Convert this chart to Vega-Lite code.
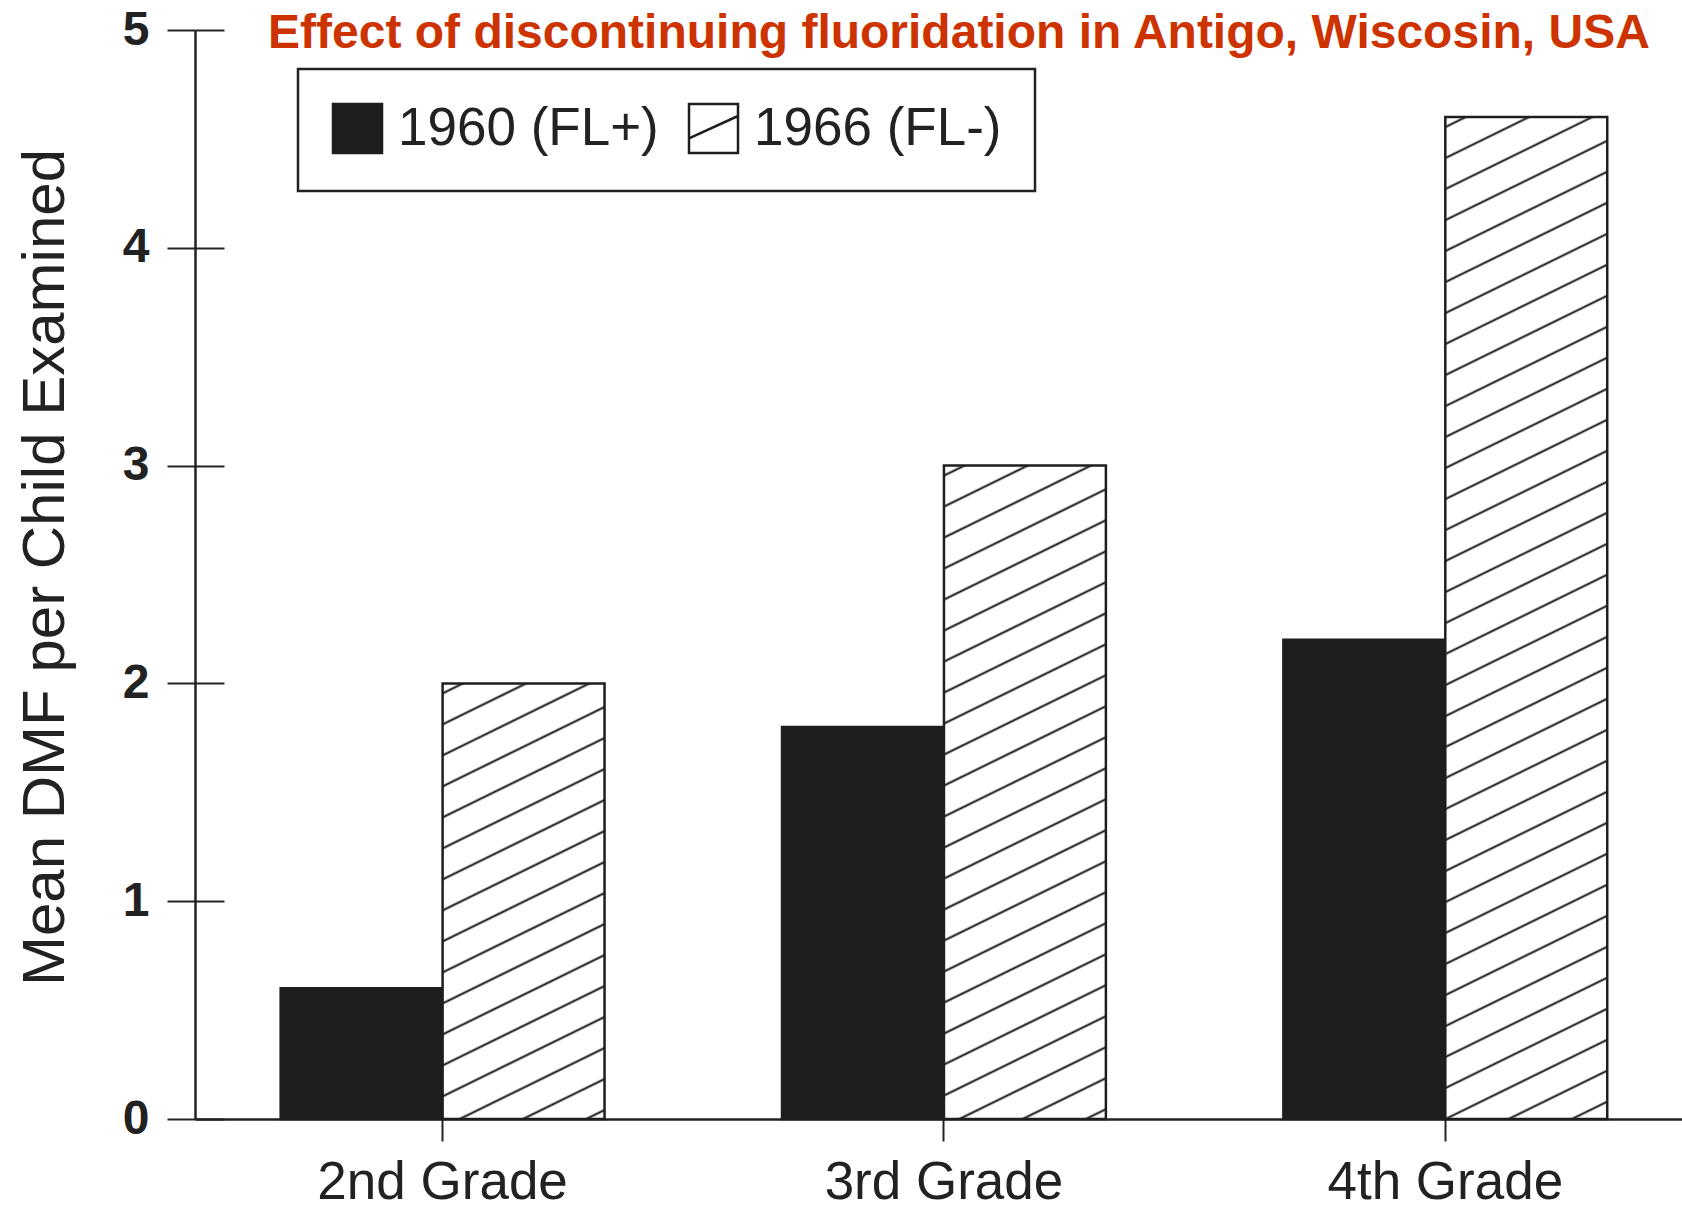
{
  "$schema": "https://vega.github.io/schema/vega-lite/v6.json",
  "autosize": {"type": "none"},
  "padding": {"left": 195, "top": 30, "right": 0, "bottom": 93},
  "width": 1487,
  "height": 1089,
  "background": "#ffffff",
  "data": {
    "values": [
      {"grade": "2nd Grade", "year": "1960 (FL+)", "dmf": 0.6},
      {"grade": "2nd Grade", "year": "1966 (FL-)", "dmf": 2.0},
      {"grade": "3rd Grade", "year": "1960 (FL+)", "dmf": 1.8},
      {"grade": "3rd Grade", "year": "1966 (FL-)", "dmf": 3.0},
      {"grade": "4th Grade", "year": "1960 (FL+)", "dmf": 2.2},
      {"grade": "4th Grade", "year": "1966 (FL-)", "dmf": 4.6}
    ]
  },
  "resolve": {"axis": {"y": "independent"}},
  "layer": [
    {
      "mark": {"type": "bar", "stroke": "#1e1e1e", "strokeWidth": 2.5},
      "encoding": {
        "x": {
          "field": "grade", "type": "nominal",
          "sort": ["2nd Grade", "3rd Grade", "4th Grade"],
          "scale": {"paddingInner": 0.354, "paddingOuter": 0.16, "align": 0.534},
          "axis": {
            "title": null, "labelAngle": 0, "labelFont": "Liberation Sans", "labelFontSize": 53,
            "labelColor": "#222222", "labelBaseline": "alphabetic", "labelPadding": 57, "labelLimit": 0,
            "tickSize": 22, "tickWidth": 2, "tickColor": "#222222",
            "domainColor": "#222222", "domainWidth": 2.5, "grid": false
          }
        },
        "xOffset": {
          "field": "year", "type": "nominal",
          "sort": ["1960 (FL+)", "1966 (FL-)"],
          "scale": {"paddingInner": 0, "paddingOuter": 0}
        },
        "y": {
          "field": "dmf", "type": "quantitative",
          "scale": {"domain": [0, 5], "nice": false},
          "axis": {
            "orient": "left",
            "title": "Mean DMF per Child Examined",
            "titleFont": "Liberation Sans", "titleFontSize": 60, "titleFontWeight": "normal",
            "titleColor": "#222222", "titleAngle": 270, "titleBaseline": "alphabetic", "titleAlign": "center",
            "titleX": -132, "titleY": 537,
            "values": [0, 1, 2, 3, 4, 5], "format": "d",
            "labelFont": "Liberation Sans", "labelFontSize": 48, "labelFontWeight": "bold",
            "labelColor": "#222222", "labelPadding": 18,
            "tickSize": 28, "tickWidth": 2, "tickColor": "#222222",
            "domainColor": "#222222", "domainWidth": 2.5, "grid": false
          }
        },
        "fill": {
          "field": "year", "type": "nominal",
          "scale": {"domain": ["1960 (FL+)", "1966 (FL-)"], "range": ["#1e1e1e", "#ffffff"]},
          "legend": {
            "title": null, "orient": "none", "legendX": 103, "legendY": 39,
            "direction": "horizontal",
            "symbolSize": 2401, "symbolType": "square",
            "symbolStrokeColor": "#1e1e1e", "symbolStrokeWidth": 2.5,
            "labelFont": "Liberation Sans", "labelFontSize": 53, "labelColor": "#222222",
            "labelLimit": 0,
            "labelOffset": 14, "columnPadding": 25, "padding": 33,
            "strokeColor": "#222222",
            "encode": {
              "legend": {"update": {"strokeWidth": {"value": 2.5}}},
              "symbols": {"update": {"shape": [
                {"test": "datum.value === '1966 (FL-)'", "value": "M-1,-1H1V1H-1Z M-1,0.4L1,-0.51"},
                {"value": "square"}
              ]}}
            }
          },
          "condition": [
            {
              "test": "datum.year === '1966 (FL-)' && datum.grade === '2nd Grade'",
              "value": {
                "gradient": "linear", "x1": 0, "y1": 0, "x2": 0.2086, "y2": 1.1443,
                "stops": [
                  {"offset": 0.0151, "color": "#fff"}, {"offset": 0.0194, "color": "#111"}, {"offset": 0.0237, "color": "#fff"},
                  {"offset": 0.0753, "color": "#fff"}, {"offset": 0.0796, "color": "#111"}, {"offset": 0.0839, "color": "#fff"},
                  {"offset": 0.1355, "color": "#fff"}, {"offset": 0.1398, "color": "#111"}, {"offset": 0.1441, "color": "#fff"},
                  {"offset": 0.1957, "color": "#fff"}, {"offset": 0.2000, "color": "#111"}, {"offset": 0.2043, "color": "#fff"},
                  {"offset": 0.2559, "color": "#fff"}, {"offset": 0.2602, "color": "#111"}, {"offset": 0.2645, "color": "#fff"},
                  {"offset": 0.3161, "color": "#fff"}, {"offset": 0.3204, "color": "#111"}, {"offset": 0.3247, "color": "#fff"},
                  {"offset": 0.3763, "color": "#fff"}, {"offset": 0.3806, "color": "#111"}, {"offset": 0.3849, "color": "#fff"},
                  {"offset": 0.4365, "color": "#fff"}, {"offset": 0.4408, "color": "#111"}, {"offset": 0.4451, "color": "#fff"},
                  {"offset": 0.4967, "color": "#fff"}, {"offset": 0.5010, "color": "#111"}, {"offset": 0.5053, "color": "#fff"},
                  {"offset": 0.5569, "color": "#fff"}, {"offset": 0.5612, "color": "#111"}, {"offset": 0.5655, "color": "#fff"},
                  {"offset": 0.6171, "color": "#fff"}, {"offset": 0.6214, "color": "#111"}, {"offset": 0.6257, "color": "#fff"},
                  {"offset": 0.6773, "color": "#fff"}, {"offset": 0.6816, "color": "#111"}, {"offset": 0.6859, "color": "#fff"},
                  {"offset": 0.7375, "color": "#fff"}, {"offset": 0.7418, "color": "#111"}, {"offset": 0.7461, "color": "#fff"},
                  {"offset": 0.7976, "color": "#fff"}, {"offset": 0.8019, "color": "#111"}, {"offset": 0.8062, "color": "#fff"},
                  {"offset": 0.8578, "color": "#fff"}, {"offset": 0.8621, "color": "#111"}, {"offset": 0.8664, "color": "#fff"},
                  {"offset": 0.9180, "color": "#fff"}, {"offset": 0.9223, "color": "#111"}, {"offset": 0.9266, "color": "#fff"},
                  {"offset": 0.9782, "color": "#fff"}, {"offset": 0.9825, "color": "#111"}, {"offset": 0.9868, "color": "#fff"}
                ]
              }
            },
            {
              "test": "datum.year === '1966 (FL-)' && datum.grade === '3rd Grade'",
              "value": {
                "gradient": "linear", "x1": 0, "y1": 0, "x2": 0.1343, "y2": 1.1052,
                "stops": [
                  {"offset": 0.0107, "color": "#fff"}, {"offset": 0.0137, "color": "#111"}, {"offset": 0.0167, "color": "#fff"},
                  {"offset": 0.0530, "color": "#fff"}, {"offset": 0.0560, "color": "#111"}, {"offset": 0.0590, "color": "#fff"},
                  {"offset": 0.0953, "color": "#fff"}, {"offset": 0.0983, "color": "#111"}, {"offset": 0.1013, "color": "#fff"},
                  {"offset": 0.1376, "color": "#fff"}, {"offset": 0.1406, "color": "#111"}, {"offset": 0.1436, "color": "#fff"},
                  {"offset": 0.1799, "color": "#fff"}, {"offset": 0.1829, "color": "#111"}, {"offset": 0.1859, "color": "#fff"},
                  {"offset": 0.2222, "color": "#fff"}, {"offset": 0.2252, "color": "#111"}, {"offset": 0.2282, "color": "#fff"},
                  {"offset": 0.2645, "color": "#fff"}, {"offset": 0.2675, "color": "#111"}, {"offset": 0.2705, "color": "#fff"},
                  {"offset": 0.3068, "color": "#fff"}, {"offset": 0.3098, "color": "#111"}, {"offset": 0.3128, "color": "#fff"},
                  {"offset": 0.3491, "color": "#fff"}, {"offset": 0.3521, "color": "#111"}, {"offset": 0.3551, "color": "#fff"},
                  {"offset": 0.3914, "color": "#fff"}, {"offset": 0.3944, "color": "#111"}, {"offset": 0.3974, "color": "#fff"},
                  {"offset": 0.4337, "color": "#fff"}, {"offset": 0.4367, "color": "#111"}, {"offset": 0.4397, "color": "#fff"},
                  {"offset": 0.4760, "color": "#fff"}, {"offset": 0.4790, "color": "#111"}, {"offset": 0.4820, "color": "#fff"},
                  {"offset": 0.5183, "color": "#fff"}, {"offset": 0.5213, "color": "#111"}, {"offset": 0.5243, "color": "#fff"},
                  {"offset": 0.5606, "color": "#fff"}, {"offset": 0.5636, "color": "#111"}, {"offset": 0.5666, "color": "#fff"},
                  {"offset": 0.6029, "color": "#fff"}, {"offset": 0.6059, "color": "#111"}, {"offset": 0.6089, "color": "#fff"},
                  {"offset": 0.6452, "color": "#fff"}, {"offset": 0.6482, "color": "#111"}, {"offset": 0.6512, "color": "#fff"},
                  {"offset": 0.6875, "color": "#fff"}, {"offset": 0.6905, "color": "#111"}, {"offset": 0.6935, "color": "#fff"},
                  {"offset": 0.7298, "color": "#fff"}, {"offset": 0.7328, "color": "#111"}, {"offset": 0.7358, "color": "#fff"},
                  {"offset": 0.7721, "color": "#fff"}, {"offset": 0.7751, "color": "#111"}, {"offset": 0.7781, "color": "#fff"},
                  {"offset": 0.8144, "color": "#fff"}, {"offset": 0.8174, "color": "#111"}, {"offset": 0.8204, "color": "#fff"},
                  {"offset": 0.8567, "color": "#fff"}, {"offset": 0.8597, "color": "#111"}, {"offset": 0.8627, "color": "#fff"},
                  {"offset": 0.8990, "color": "#fff"}, {"offset": 0.9020, "color": "#111"}, {"offset": 0.9050, "color": "#fff"},
                  {"offset": 0.9413, "color": "#fff"}, {"offset": 0.9443, "color": "#111"}, {"offset": 0.9473, "color": "#fff"},
                  {"offset": 0.9836, "color": "#fff"}, {"offset": 0.9866, "color": "#111"}, {"offset": 0.9896, "color": "#fff"}
                ]
              }
            },
            {
              "test": "datum.year === '1966 (FL-)' && datum.grade === '4th Grade'",
              "value": {
                "gradient": "linear", "x1": 0, "y1": 0, "x2": 0.0850, "y2": 1.0725,
                "stops": [
                  {"offset": 0.0072, "color": "#fff"}, {"offset": 0.0092, "color": "#111"}, {"offset": 0.0112, "color": "#fff"},
                  {"offset": 0.0359, "color": "#fff"}, {"offset": 0.0379, "color": "#111"}, {"offset": 0.0399, "color": "#fff"},
                  {"offset": 0.0646, "color": "#fff"}, {"offset": 0.0666, "color": "#111"}, {"offset": 0.0686, "color": "#fff"},
                  {"offset": 0.0933, "color": "#fff"}, {"offset": 0.0953, "color": "#111"}, {"offset": 0.0973, "color": "#fff"},
                  {"offset": 0.1219, "color": "#fff"}, {"offset": 0.1239, "color": "#111"}, {"offset": 0.1259, "color": "#fff"},
                  {"offset": 0.1506, "color": "#fff"}, {"offset": 0.1526, "color": "#111"}, {"offset": 0.1546, "color": "#fff"},
                  {"offset": 0.1793, "color": "#fff"}, {"offset": 0.1813, "color": "#111"}, {"offset": 0.1833, "color": "#fff"},
                  {"offset": 0.2079, "color": "#fff"}, {"offset": 0.2099, "color": "#111"}, {"offset": 0.2119, "color": "#fff"},
                  {"offset": 0.2366, "color": "#fff"}, {"offset": 0.2386, "color": "#111"}, {"offset": 0.2406, "color": "#fff"},
                  {"offset": 0.2653, "color": "#fff"}, {"offset": 0.2673, "color": "#111"}, {"offset": 0.2693, "color": "#fff"},
                  {"offset": 0.2939, "color": "#fff"}, {"offset": 0.2959, "color": "#111"}, {"offset": 0.2979, "color": "#fff"},
                  {"offset": 0.3226, "color": "#fff"}, {"offset": 0.3246, "color": "#111"}, {"offset": 0.3266, "color": "#fff"},
                  {"offset": 0.3513, "color": "#fff"}, {"offset": 0.3533, "color": "#111"}, {"offset": 0.3553, "color": "#fff"},
                  {"offset": 0.3800, "color": "#fff"}, {"offset": 0.3820, "color": "#111"}, {"offset": 0.3840, "color": "#fff"},
                  {"offset": 0.4086, "color": "#fff"}, {"offset": 0.4106, "color": "#111"}, {"offset": 0.4126, "color": "#fff"},
                  {"offset": 0.4373, "color": "#fff"}, {"offset": 0.4393, "color": "#111"}, {"offset": 0.4413, "color": "#fff"},
                  {"offset": 0.4660, "color": "#fff"}, {"offset": 0.4680, "color": "#111"}, {"offset": 0.4700, "color": "#fff"},
                  {"offset": 0.4946, "color": "#fff"}, {"offset": 0.4966, "color": "#111"}, {"offset": 0.4986, "color": "#fff"},
                  {"offset": 0.5233, "color": "#fff"}, {"offset": 0.5253, "color": "#111"}, {"offset": 0.5273, "color": "#fff"},
                  {"offset": 0.5520, "color": "#fff"}, {"offset": 0.5540, "color": "#111"}, {"offset": 0.5560, "color": "#fff"},
                  {"offset": 0.5806, "color": "#fff"}, {"offset": 0.5826, "color": "#111"}, {"offset": 0.5846, "color": "#fff"},
                  {"offset": 0.6093, "color": "#fff"}, {"offset": 0.6113, "color": "#111"}, {"offset": 0.6133, "color": "#fff"},
                  {"offset": 0.6380, "color": "#fff"}, {"offset": 0.6400, "color": "#111"}, {"offset": 0.6420, "color": "#fff"},
                  {"offset": 0.6666, "color": "#fff"}, {"offset": 0.6686, "color": "#111"}, {"offset": 0.6706, "color": "#fff"},
                  {"offset": 0.6953, "color": "#fff"}, {"offset": 0.6973, "color": "#111"}, {"offset": 0.6993, "color": "#fff"},
                  {"offset": 0.7240, "color": "#fff"}, {"offset": 0.7260, "color": "#111"}, {"offset": 0.7280, "color": "#fff"},
                  {"offset": 0.7526, "color": "#fff"}, {"offset": 0.7546, "color": "#111"}, {"offset": 0.7566, "color": "#fff"},
                  {"offset": 0.7813, "color": "#fff"}, {"offset": 0.7833, "color": "#111"}, {"offset": 0.7853, "color": "#fff"},
                  {"offset": 0.8100, "color": "#fff"}, {"offset": 0.8120, "color": "#111"}, {"offset": 0.8140, "color": "#fff"},
                  {"offset": 0.8387, "color": "#fff"}, {"offset": 0.8407, "color": "#111"}, {"offset": 0.8427, "color": "#fff"},
                  {"offset": 0.8673, "color": "#fff"}, {"offset": 0.8693, "color": "#111"}, {"offset": 0.8713, "color": "#fff"},
                  {"offset": 0.8960, "color": "#fff"}, {"offset": 0.8980, "color": "#111"}, {"offset": 0.9000, "color": "#fff"},
                  {"offset": 0.9247, "color": "#fff"}, {"offset": 0.9267, "color": "#111"}, {"offset": 0.9287, "color": "#fff"},
                  {"offset": 0.9533, "color": "#fff"}, {"offset": 0.9553, "color": "#111"}, {"offset": 0.9573, "color": "#fff"},
                  {"offset": 0.9820, "color": "#fff"}, {"offset": 0.9840, "color": "#111"}, {"offset": 0.9860, "color": "#fff"}
                ]
              }
            }
          ]
        }
      }
    },
    {
      "mark": {"type": "bar", "opacity": 0},
      "encoding": {
        "x": {"field": "grade", "type": "nominal", "sort": ["2nd Grade", "3rd Grade", "4th Grade"]},
        "y": {
          "field": "dmf", "type": "quantitative",
          "axis": {
            "orient": "left", "title": null, "labels": false, "domain": false, "grid": false,
            "values": [0, 1, 2, 3, 4, 5],
            "tickSize": -29, "tickWidth": 2, "tickColor": "#222222"
          }
        }
      }
    },
    {
      "data": {"values": [{"heading": "Effect of discontinuing fluoridation in Antigo, Wiscosin, USA"}]},
      "mark": {
        "type": "text", "font": "Liberation Sans", "fontSize": 48, "fontWeight": "bold",
        "color": "#cc3300", "baseline": "alphabetic", "align": "center", "dx": 15
      },
      "encoding": {
        "text": {"field": "heading"},
        "x": {"datum": "3rd Grade", "type": "nominal"},
        "y": {"datum": 4.917, "type": "quantitative", "scale": {"domain": [0, 5], "nice": false}, "axis": null}
      }
    }
  ],
  "config": {"view": {"stroke": null}}
}
